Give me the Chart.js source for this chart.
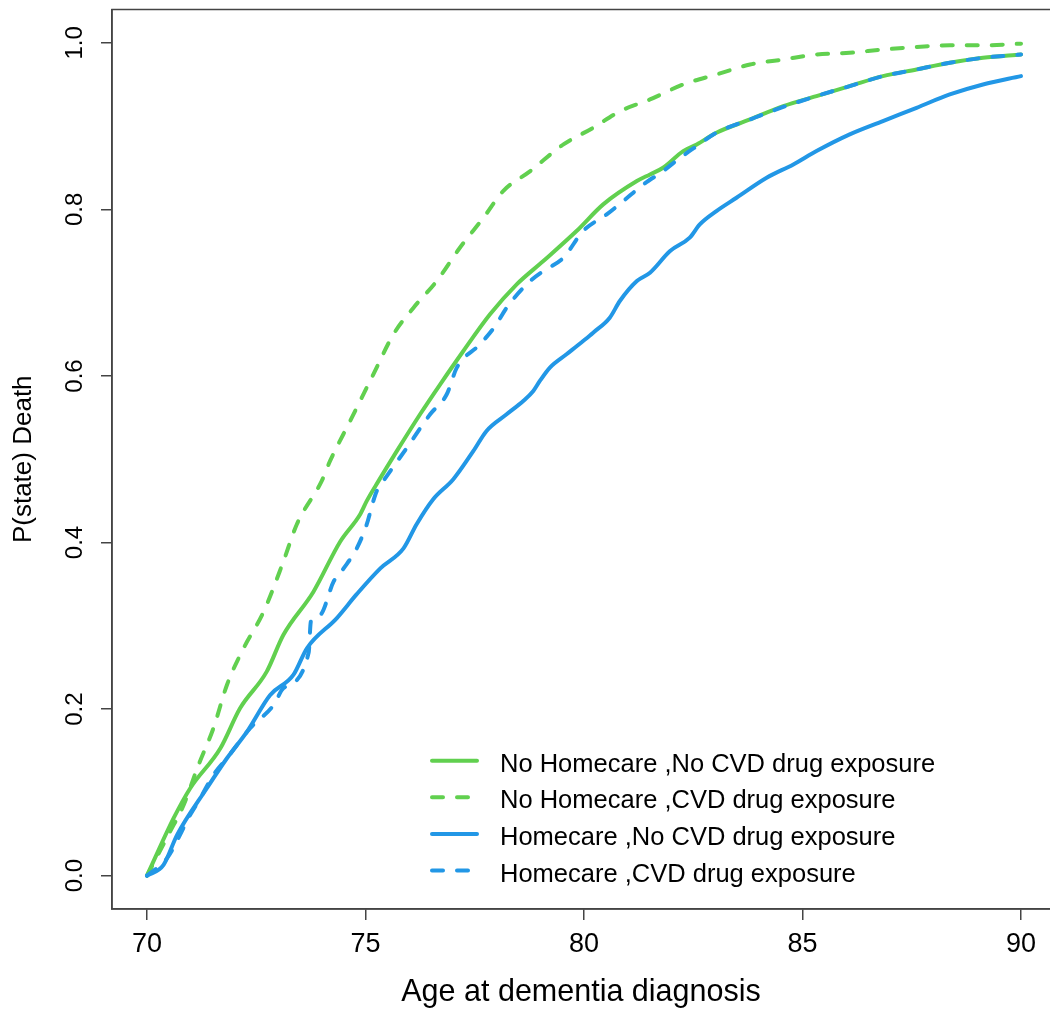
<!DOCTYPE html>
<html>
<head>
<meta charset="utf-8">
<script src="https://cdn.jsdelivr.net/npm/chart.js@4/dist/chart.umd.min.js"></script>
<style>
  html, body { margin: 0; padding: 0; overflow: hidden; background: #fff; }
  #wrap { width: 1050px; height: 1012px; }
</style>
</head>
<body>
<div id="wrap"><canvas id="c" width="1050" height="1012"></canvas></div>
<script>
// Axis ticks
const xTicks = [70, 75, 80, 85, 90];
const yTicks = [0, 0.2, 0.4, 0.6, 0.8, 1.0];
const yTickLabels = ['0.0', '0.2', '0.4', '0.6', '0.8', '1.0'];

// Series names
const seriesLabels = [
  'No Homecare ,No CVD drug exposure',
  'No Homecare ,CVD drug exposure',
  'Homecare ,No CVD drug exposure',
  'Homecare ,CVD drug exposure'
];

// No Homecare, No CVD drug exposure
const ageNoHcNoCvd = [70.00, 70.61, 70.99, 71.68, 72.13, 72.74, 73.12, 73.81, 74.42, 74.88, 75.03, 75.30, 75.72, 76.25, 76.71, 77.24, 77.85, 78.46, 79.07, 79.83, 80.44, 81.21, 81.51, 81.81, 82.27, 82.58, 83.03, 83.80, 84.56, 85.32, 86.08, 86.84, 87.61, 88.37, 89.13, 90.00];
const probNoHcNoCvd = [0.000, 0.069, 0.105, 0.153, 0.201, 0.245, 0.289, 0.341, 0.401, 0.434, 0.450, 0.474, 0.510, 0.554, 0.590, 0.630, 0.674, 0.710, 0.738, 0.774, 0.806, 0.834, 0.842, 0.850, 0.870, 0.878, 0.892, 0.908, 0.924, 0.936, 0.948, 0.960, 0.968, 0.976, 0.982, 0.986];

// No Homecare, CVD drug exposure
const ageNoHcCvd = [70.00, 70.53, 70.84, 71.18, 71.52, 71.83, 72.21, 72.67, 73.12, 73.43, 74.00, 74.19, 74.65, 75.18, 75.64, 76.10, 76.63, 77.16, 77.70, 78.15, 78.77, 79.53, 80.21, 80.83, 81.51, 82.27, 83.03, 83.80, 84.56, 85.32, 86.08, 86.84, 87.61, 88.37, 89.13, 90.00];
const probNoHcCvd = [0.000, 0.053, 0.085, 0.133, 0.177, 0.229, 0.273, 0.317, 0.377, 0.422, 0.474, 0.498, 0.546, 0.602, 0.650, 0.682, 0.714, 0.754, 0.790, 0.822, 0.846, 0.878, 0.898, 0.918, 0.932, 0.950, 0.962, 0.974, 0.980, 0.986, 0.988, 0.992, 0.995, 0.997, 0.997, 0.999];

// Homecare, No CVD drug exposure
const ageHcNoCvd = [70.00, 70.38, 70.69, 71.37, 71.83, 72.29, 72.82, 73.35, 73.66, 74.34, 74.80, 75.34, 75.87, 76.17, 76.55, 77.01, 77.47, 77.77, 78.23, 78.61, 78.84, 78.99, 79.22, 79.60, 79.98, 80.21, 80.59, 80.82, 81.21, 81.51, 81.97, 82.42, 82.65, 83.03, 83.49, 84.18, 84.79, 85.32, 86.08, 86.84, 87.61, 88.37, 89.13, 90.00];
const probHcNoCvd = [0.000, 0.013, 0.049, 0.105, 0.141, 0.173, 0.217, 0.241, 0.273, 0.309, 0.338, 0.369, 0.393, 0.422, 0.452, 0.476, 0.510, 0.534, 0.554, 0.570, 0.582, 0.594, 0.610, 0.626, 0.642, 0.652, 0.670, 0.690, 0.714, 0.724, 0.750, 0.766, 0.782, 0.798, 0.814, 0.838, 0.854, 0.870, 0.890, 0.906, 0.922, 0.938, 0.950, 0.960];

// Homecare, CVD drug exposure
const ageHcCvd = [70.00, 70.46, 70.99, 71.22, 71.52, 71.83, 72.36, 72.90, 73.12, 73.70, 73.75, 73.96, 74.27, 74.50, 74.80, 75.03, 75.18, 75.26, 75.41, 75.95, 76.48, 76.86, 77.09, 77.62, 77.97, 78.23, 78.77, 79.07, 79.53, 79.98, 80.52, 80.90, 81.36, 81.81, 82.20, 82.58, 83.03, 83.80, 84.56, 85.32, 86.08, 86.84, 87.61, 88.37, 89.13, 90.00];
const probHcCvd = [0.000, 0.021, 0.073, 0.093, 0.121, 0.141, 0.177, 0.205, 0.225, 0.268, 0.305, 0.313, 0.353, 0.369, 0.393, 0.422, 0.450, 0.462, 0.474, 0.514, 0.554, 0.578, 0.610, 0.638, 0.660, 0.682, 0.714, 0.726, 0.742, 0.774, 0.794, 0.810, 0.830, 0.846, 0.862, 0.876, 0.892, 0.908, 0.923, 0.936, 0.948, 0.960, 0.968, 0.976, 0.982, 0.986];

const GREEN = '#61D04F';
const BLUE = '#2297E6';
const DASH = [11, 14];
const FONT = '"Liberation Sans", Arial, sans-serif';
const AXIS = '#444';

const pts = (xs, ys) => xs.map((x, i) => ({ x: x, y: ys[i] }));

const seriesData = [
  pts(ageNoHcNoCvd, probNoHcNoCvd),
  pts(ageNoHcCvd, probNoHcCvd),
  pts(ageHcNoCvd, probHcNoCvd),
  pts(ageHcCvd, probHcCvd)
];
const seriesColors = [GREEN, GREEN, BLUE, BLUE];
const seriesDashed = [false, true, false, true];

const datasets = seriesData.map((d, i) => ({
  label: seriesLabels[i],
  data: d,
  borderColor: seriesColors[i],
  borderWidth: 4,
  borderDash: seriesDashed[i] ? DASH : [],
  borderCapStyle: 'round',
  borderJoinStyle: 'round',
  pointRadius: 0,
  cubicInterpolationMode: 'monotone',
  fill: false,
  order: seriesData.length - 1 - i
}));

// Plot frame: left, top and bottom sides (the right side lies past the canvas edge)
const framePlugin = {
  id: 'frame',
  beforeDatasetsDraw(chart) {
    const { ctx, chartArea: a } = chart;
    ctx.save();
    ctx.strokeStyle = AXIS;
    ctx.lineWidth = 1.5;
    ctx.beginPath();
    ctx.moveTo(a.right + 2, a.top);
    ctx.lineTo(a.left, a.top);
    ctx.lineTo(a.left, a.bottom);
    ctx.lineTo(a.right + 2, a.bottom);
    ctx.stroke();
    ctx.restore();
  }
};

// Key in the lower right corner of the plot
const cornerLegend = {
  id: 'cornerLegend',
  afterDatasetsDraw(chart) {
    const { ctx, chartArea: a } = chart;
    const list = chart.data.datasets;
    const left = a.left + 318;
    ctx.save();
    list.forEach((ds, i) => {
      const y = a.bottom - 38.5 - (list.length - 1 - i) * 36.6;
      ctx.strokeStyle = ds.borderColor;
      ctx.lineWidth = ds.borderWidth;
      ctx.lineCap = 'round';
      ctx.setLineDash(ds.borderDash || []);
      ctx.beginPath();
      ctx.moveTo(left + 2, y);
      ctx.lineTo(left + 47, y);
      ctx.stroke();
      ctx.setLineDash([]);
      ctx.fillStyle = '#000';
      ctx.font = '25.5px ' + FONT;
      ctx.textBaseline = 'alphabetic';
      ctx.textAlign = 'left';
      ctx.fillText(ds.label, left + 70, y + 11);
    });
    ctx.restore();
  }
};

Chart.defaults.font.family = FONT;

new Chart(document.getElementById('c'), {
  type: 'line',
  data: { datasets: datasets },
  options: {
    responsive: false,
    animation: false,
    events: [],
    layout: { padding: { top: 9.5, right: 0, left: 0, bottom: 0 } },
    plugins: { legend: { display: false }, tooltip: { enabled: false } },
    scales: {
      x: {
        type: 'linear',
        min: 69.2,
        max: 90.663,
        afterBuildTicks: s => { s.ticks = xTicks.map(v => ({ value: v })); },
        afterFit: s => { s.height = 103; s.paddingLeft = 0; s.paddingRight = 0; },
        grid: { drawOnChartArea: false, drawTicks: true, tickLength: 11, color: AXIS, lineWidth: 1.5 },
        border: { display: true, color: AXIS, width: 1.5 },
        ticks: { font: { size: 27, family: FONT }, color: '#000', padding: 8, maxRotation: 0, autoSkip: false, callback: v => String(v) },
        title: { display: true, text: 'Age at dementia diagnosis', font: { size: 30.5, family: FONT }, color: '#000', padding: { top: 0, bottom: 1 } }
      },
      y: {
        type: 'linear',
        min: -0.04,
        max: 1.04,
        afterBuildTicks: s => { s.ticks = yTicks.map(v => ({ value: v })); },
        afterFit: s => { s.width = 112; s.paddingTop = 0; s.paddingBottom = 0; },
        grid: { drawOnChartArea: false, drawTicks: true, tickLength: 11, color: AXIS, lineWidth: 1.5 },
        border: { display: true, color: AXIS, width: 1.5 },
        ticks: { font: { size: 24, family: FONT }, color: '#000', padding: 9, minRotation: 90, maxRotation: 90, crossAlign: 'center', autoSkip: false, callback: (v, i) => yTickLabels[i] },
        title: { display: true, text: 'P(state) Death', font: { size: 26, family: FONT }, color: '#000', padding: { top: 8, bottom: 0 } }
      }
    }
  },
  plugins: [framePlugin, cornerLegend]
});
</script>
</body>
</html>
